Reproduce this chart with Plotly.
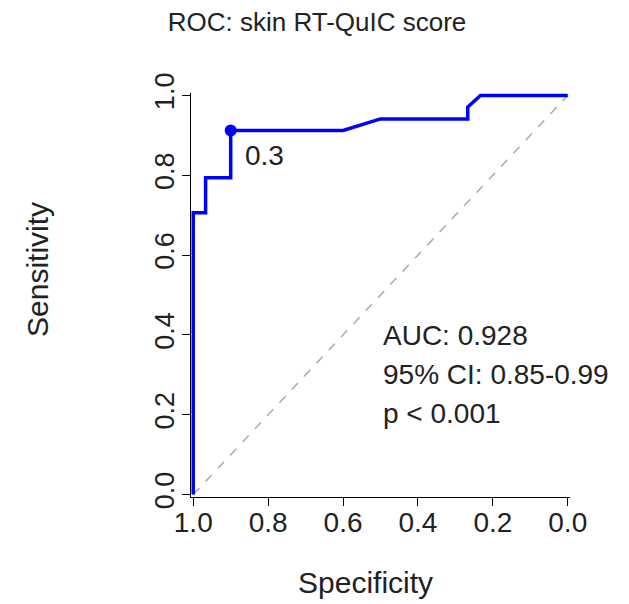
import plotly.graph_objects as go

# ROC curve points (specificity, sensitivity)
specificity = [1.0, 1.0, 0.967, 0.967, 0.9, 0.9, 0.6, 0.5, 0.267, 0.267, 0.233, 0.0]
sensitivity = [0.0, 0.706, 0.706, 0.794, 0.794, 0.912, 0.912, 0.941, 0.941, 0.971, 1.0, 1.0]

best_spec = [0.9]
best_sens = [0.912]
best_label = ["0.3"]

ref_x = [1.0, 0.0]
ref_y = [0.0, 1.0]

tick_vals = [0.0, 0.2, 0.4, 0.6, 0.8, 1.0]
tick_text = ["0.0", "0.2", "0.4", "0.6", "0.8", "1.0"]

stats_lines = ["AUC: 0.928", "95% CI: 0.85-0.99", "p < 0.001"]
stats_y = [0.398, 0.300, 0.202]
stats_x = 0.5

FONT = "Liberation Sans, Arial, Helvetica, sans-serif"
TXT = "#222222"

OFF = 8  # page body margin
W, H = 629 - OFF, 604 - OFF
L, R, T, B = 191 - OFF, 59, 93 - OFF, 107
PW, PH = W - L - R, H - T - B


def px_to_paper(px, py):
    return (px - OFF - L) / PW, 1 - (py - OFF - T) / PH


fig = go.Figure()
fig.add_trace(go.Scatter(x=ref_x, y=ref_y, mode="lines",
                         line=dict(color="#aaaaaa", width=1.5, dash="dash"),
                         hoverinfo="skip", showlegend=False))
fig.add_trace(go.Scatter(x=specificity, y=sensitivity, mode="lines",
                         line=dict(color="#0000ff", width=3.5, shape="linear"),
                         showlegend=False))
fig.add_trace(go.Scatter(x=best_spec, y=best_sens, mode="markers",
                         marker=dict(color="#0000ff", size=12),
                         cliponaxis=False, showlegend=False))

for s, yv in zip(best_label, best_sens):
    fig.add_annotation(x=best_spec[0], y=yv, text=s, showarrow=False,
                       xanchor="left", yanchor="middle", xshift=12, yshift=-25,
                       font=dict(family=FONT, size=28, color=TXT))

for line, yv in zip(stats_lines, stats_y):
    fig.add_annotation(x=stats_x, y=yv, text=line, showarrow=False,
                       xanchor="left", yanchor="middle",
                       font=dict(family=FONT, size=28, color=TXT))

sx, sy = px_to_paper(37, 270)
fig.add_annotation(xref="paper", yref="paper", x=sx, y=sy, text="Sensitivity",
                   showarrow=False, textangle=-90, xanchor="center", yanchor="middle",
                   font=dict(family=FONT, size=30, color=TXT))
fx, fy = px_to_paper(365, 582)
fig.add_annotation(xref="paper", yref="paper", x=fx, y=fy, text="Specificity",
                   showarrow=False, xanchor="center", yanchor="middle",
                   font=dict(family=FONT, size=30, color=TXT))

fig.update_layout(
    width=W, height=H,
    margin=dict(l=L, r=R, t=T, b=B),
    paper_bgcolor="white", plot_bgcolor="white",
    title=dict(text="ROC: skin RT-QuIC score", x=(317 - OFF) / W, xanchor="center",
               xref="container", y=1 - (22 - OFF) / H, yanchor="middle", yref="container",
               font=dict(family=FONT, size=26, color=TXT)),
    xaxis=dict(range=[1.006, -0.006], tickvals=tick_vals, ticktext=tick_text,
               showgrid=False, zeroline=False, showline=True, linecolor="black",
               linewidth=1, ticks="outside", ticklen=8, tickcolor="black",
               automargin=False, ticklabelstandoff=-8,
               tickfont=dict(family=FONT, size=28, color=TXT)),
    yaxis=dict(range=[-0.006, 1.006], tickvals=tick_vals, ticktext=tick_text,
               showgrid=False, zeroline=False, showline=True, linecolor="black",
               linewidth=1, ticks="outside", ticklen=8, tickcolor="black",
               tickangle=-90, automargin=False, ticklabelstandoff=-3,
               tickfont=dict(family=FONT, size=27, color=TXT)),
)

fig.write_html("out.html")
